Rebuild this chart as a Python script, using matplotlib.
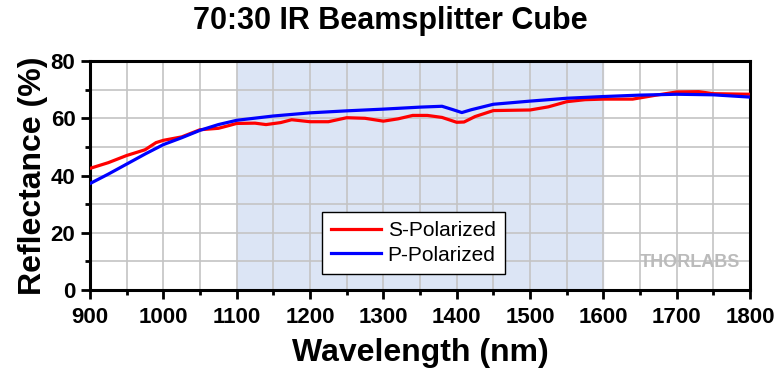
import numpy as np
import matplotlib.pyplot as plt
from matplotlib.ticker import MultipleLocator

plt.rcParams['font.family'] = ['Liberation Sans', 'DejaVu Sans']
plt.rcParams['font.weight'] = 'bold'

# S-polarized reflectance
wl_s = [900, 925, 950, 975, 990, 1000, 1025, 1050, 1075, 1090, 1100, 1125, 1140,
        1160, 1175, 1200, 1225, 1250, 1275, 1300, 1320, 1340, 1360, 1380, 1400,
        1410, 1425, 1450, 1500, 1525, 1550, 1575, 1600, 1640, 1670, 1700, 1730,
        1750, 1800]
refl_s = [42.5, 44.5, 47.0, 49.0, 51.5, 52.3, 53.5, 56.0, 56.5, 57.5, 58.2, 58.3, 57.8,
          58.5, 59.5, 58.8, 58.8, 60.2, 60.0, 59.0, 59.8, 61.0, 61.0, 60.3, 58.6,
          58.7, 60.6, 62.7, 62.9, 64.0, 65.8, 66.5, 66.7, 66.7, 68.0, 69.2, 69.3,
          68.6, 68.4]

# P-polarized reflectance
wl_p = [900, 925, 950, 975, 1000, 1025, 1050, 1075, 1100, 1150, 1200, 1250, 1300,
        1350, 1380, 1395, 1407, 1420, 1450, 1500, 1550, 1600, 1650, 1700, 1750, 1800]
refl_p = [37.2, 40.5, 44.0, 47.5, 50.8, 53.2, 55.8, 57.8, 59.3, 60.8, 61.9, 62.6, 63.2,
          63.9, 64.2, 63.0, 62.0, 63.0, 64.9, 66.0, 67.0, 67.6, 68.1, 68.4, 68.2, 67.4]

band = (1100, 1600)

fig = plt.figure(figsize=(7.8, 3.7), dpi=100)
ax = fig.add_axes([0.1154, 0.2162, 0.8462, 0.6188])

ax.axvspan(band[0], band[1], color='#dce5f5', zorder=0)
ax.plot(wl_s, refl_s, color='red', lw=2.3, label='S-Polarized', zorder=3)
ax.plot(wl_p, refl_p, color='blue', lw=2.3, label='P-Polarized', zorder=3)

ax.set_xlim(900, 1800)
ax.set_ylim(0, 80)
ax.xaxis.set_major_locator(MultipleLocator(100))
ax.xaxis.set_minor_locator(MultipleLocator(50))
ax.yaxis.set_major_locator(MultipleLocator(20))
ax.yaxis.set_minor_locator(MultipleLocator(10))
ax.grid(which='both', color='#c4c4c4', lw=1.2, zorder=1)
ax.set_axisbelow(True)

for s in ax.spines.values():
    s.set_linewidth(2.2)
ax.tick_params(which='major', direction='out', length=6.5, width=2, labelsize=16, pad=4)
ax.tick_params(axis='x', which='major', pad=6)
ax.tick_params(which='minor', direction='out', length=3.5, width=2)

ax.set_xlabel('Wavelength (nm)', fontsize=23, fontweight='bold', labelpad=7)
ax.set_ylabel('Reflectance (%)', fontsize=23, fontweight='bold', labelpad=2)
fig.text(0.5, 0.943, '70:30 IR Beamsplitter Cube', fontsize=22, fontweight='bold',
         ha='center', va='center')

leg = ax.legend(loc='lower left', bbox_to_anchor=(0.3515, 0.07), fontsize=15,
                frameon=True, fancybox=False, edgecolor='black', framealpha=1,
                handlelength=2.4, handletextpad=0.3, borderpad=0.45, labelspacing=0.25,
                borderaxespad=0)
leg.get_frame().set_linewidth(1.0)
for t in leg.get_texts():
    t.set_fontweight('normal')

ax.text(0.985, 0.12, 'THORLABS', transform=ax.transAxes, ha='right', va='center',
        fontsize=13, color='#bbbbbb', fontweight='bold')

fig.savefig('out.png', dpi=100)
